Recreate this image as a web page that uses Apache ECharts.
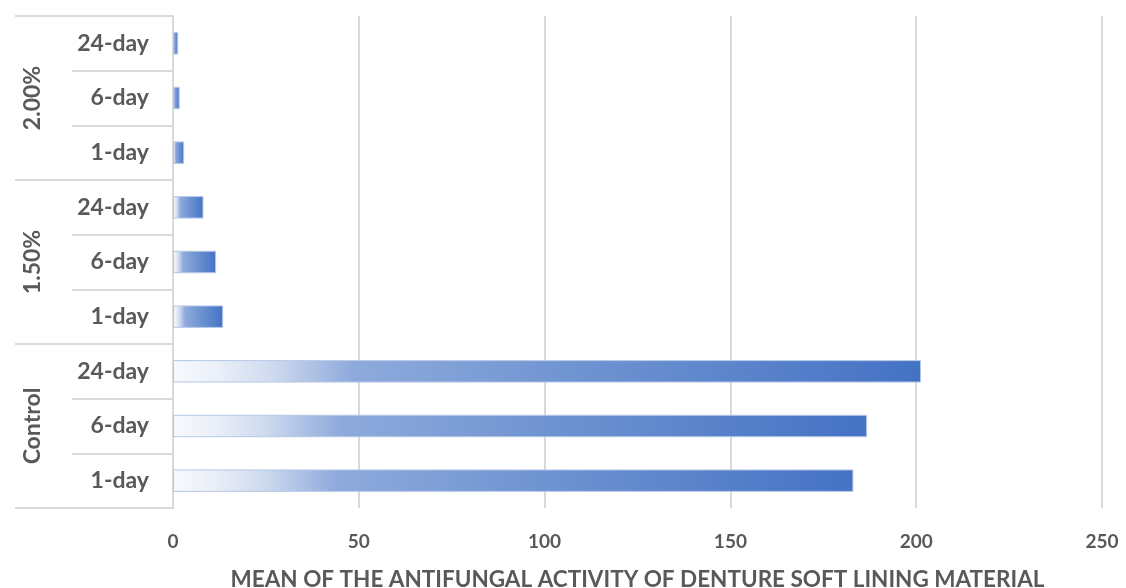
<!DOCTYPE html>
<html>
<head>
<meta charset="utf-8">
<script src="https://cdn.jsdelivr.net/npm/echarts@6/dist/echarts.min.js"></script>
<style>
  html, body { margin: 0; padding: 0; background: #fff; }
  #chart { width: 1126px; height: 588px; }
</style>
</head>
<body>
<div id="chart"></div>
<script>
// categories bottom to top
var days = ['1-day', '6-day', '24-day', '1-day', '6-day', '24-day', '1-day', '6-day', '24-day']
var groups = ['Control', '1.50%', '2.00%']
var values = [183.1, 186.8, 201.3, 13.5, 11.6, 8.2, 3.0, 1.8, 1.4]
var axisName = 'MEAN OF THE ANTIFUNGAL ACTIVITY OF DENTURE SOFT LINING MATERIAL'

var textColor = '#595959'
var lineColor = '#d9d9d9'
var font = 'Lato'

var chart = echarts.init(document.getElementById('chart'))
chart.setOption({
  animation: false,
  grid: { left: 173, right: 24, top: 16, bottom: 80, outerBoundsMode: 'none' },
  xAxis: {
    type: 'value',
    min: 0,
    max: 250,
    interval: 50,
    name: axisName,
    nameLocation: 'middle',
    nameGap: 60,
    nameTextStyle: { color: textColor, fontFamily: font, fontSize: 22.5, fontWeight: 'bold' },
    axisLine: { show: false },
    axisTick: { show: false },
    axisLabel: { color: textColor, fontFamily: font, fontSize: 19, fontWeight: 'bold', margin: 24 },
    splitLine: { lineStyle: { color: lineColor, width: 2 } }
  },
  yAxis: [
    {
      type: 'category',
      data: days,
      position: 'left',
      offset: 0,
      axisLine: { show: true, onZero: false, lineStyle: { color: lineColor, width: 2 } },
      axisTick: { show: true, length: 101, lineStyle: { color: lineColor, width: 2 } },
      axisLabel: { color: textColor, fontFamily: font, fontSize: 23, fontWeight: 'bold', margin: 24 }
    },
    {
      type: 'category',
      data: groups,
      position: 'left',
      offset: 0,
      axisLine: { show: false },
      axisTick: { show: true, length: 158, lineStyle: { color: lineColor, width: 2 } },
      axisLabel: {
        color: textColor, fontFamily: font, fontSize: 23, fontWeight: 'bold',
        rotate: 90, margin: 129, alignMinLabel: 'center', alignMaxLabel: 'center'
      }
    }
  ],
  series: [{
    type: 'bar',
    yAxisIndex: 0,
    data: values,
    barWidth: '41%',
    itemStyle: {
      borderColor: '#b4c7e7',
      borderWidth: 1,
      color: new echarts.graphic.LinearGradient(0, 0, 1, 0, [
        { offset: 0, color: '#f7f9fd' },
        { offset: 0.06, color: '#eaeff8' },
        { offset: 0.13, color: '#d0dbef' },
        { offset: 0.24, color: '#8eaadc' },
        { offset: 0.55, color: '#6e93d1' },
        { offset: 1, color: '#4472c4' }
      ])
    }
  }]
})
</script>
</body>
</html>
